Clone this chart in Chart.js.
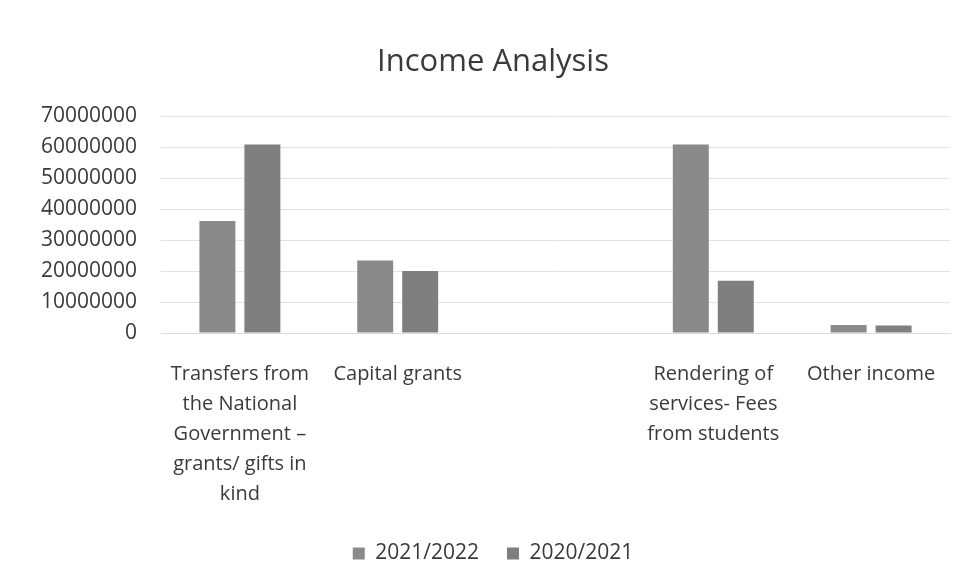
<!DOCTYPE html>
<html>
<head>
<meta charset="utf-8">
<script src="https://cdn.jsdelivr.net/npm/chart.js@4.4.1/dist/chart.umd.min.js"></script>
<style>
  html, body { margin: 0; padding: 0; background: #fff; }
  #wrap { width: 964px; height: 584px; position: relative; }
</style>
</head>
<body>
<div id="wrap"><canvas id="incomeChart"></canvas></div>
<script>
// --- data ---
const categories = [
    ['Transfers from', 'the National', 'Government –', 'grants/ gifts in', 'kind'],
    'Capital grants',
    '',
    ['Rendering of', 'services- Fees', 'from students'],
    'Other income'
];
const series2122 = [36200000, 23400000, null, 60900000, 2600000];
const series2021 = [60900000, 20000000, null, 16900000, 2400000];
const yTicks = [0, 10000000, 20000000, 30000000, 40000000, 50000000, 60000000, 70000000];

const FONT = "'Open Sans', sans-serif";
const TEXT = '#3a3a3a';

const ctx = document.getElementById('incomeChart').getContext('2d');
window.incomeChart = new Chart(ctx, {
    type: 'bar',
    data: {
        labels: categories,
        datasets: [
            {
                label: '2021/2022',
                data: series2122,
                backgroundColor: '#8a8a8a',
                borderWidth: 0,
                barPercentage: 0.8,
                categoryPercentage: 0.57
            },
            {
                label: '2020/2021',
                data: series2021,
                backgroundColor: '#7f7f7f',
                borderWidth: 0,
                barPercentage: 0.8,
                categoryPercentage: 0.57
            }
        ]
    },
    options: {
        responsive: true,
        maintainAspectRatio: false,
        animation: false,
        layout: {
            padding: { left: 36, right: 14, top: 34, bottom: 10 }
        },
        plugins: {
            title: {
                display: true,
                text: 'Income Analysis',
                color: TEXT,
                font: { size: 31, family: FONT, weight: 'normal' },
                padding: { top: 10, bottom: 35 }
            },
            legend: {
                position: 'bottom',
                labels: {
                    boxWidth: 12,
                    boxHeight: 12,
                    padding: 28,
                    color: TEXT,
                    font: { size: 21, family: FONT }
                }
            },
            tooltip: { enabled: false }
        },
        scales: {
            y: {
                min: 0,
                max: 70000000,
                afterBuildTicks: function (axis) {
                    axis.ticks = yTicks.map(function (v) { return { value: v }; });
                },
                afterFit: function (axis) { axis.width = 125; },
                grid: { color: '#e2e2e2', drawTicks: false },
                border: { display: false },
                ticks: {
                    padding: 24,
                    color: TEXT,
                    font: { size: 21, family: FONT },
                    callback: function (value) { return String(value); }
                }
            },
            x: {
                afterFit: function (axis) { axis.height = 182; },
                grid: { display: false },
                border: { color: '#dcdcdc' },
                ticks: {
                    padding: 18,
                    color: TEXT,
                    maxRotation: 0,
                    autoSkip: false,
                    font: { size: 20, family: FONT, lineHeight: 1.5 }
                }
            }
        }
    }
});
</script>
</body>
</html>
